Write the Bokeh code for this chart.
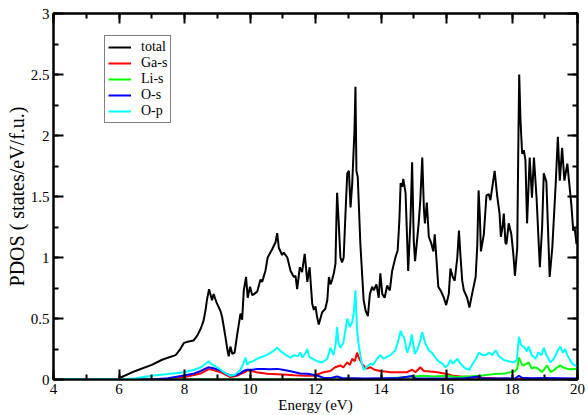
from bokeh.plotting import figure
from bokeh.models import (LinearAxis, Legend, LegendItem, Range1d,
                          SingleIntervalTicker, CustomJSTickFormatter)
from bokeh.embed import file_html
from bokeh.resources import INLINE

FONT = "'Liberation Serif', 'Times New Roman', Times, 'DejaVu Serif', serif"

# Total density of states (states/eV/f.u.)
total_e = [4.0, 5.95, 6.0, 6.5, 7.0, 7.3, 7.4, 7.73, 7.85, 7.98, 8.1, 8.28, 8.39, 8.5, 8.58,
           8.64, 8.69, 8.75, 8.8, 8.84, 8.89, 8.94, 8.98, 9.1, 9.15, 9.2, 9.25, 9.3, 9.35,
           9.4, 9.46, 9.53, 9.61, 9.71, 9.76, 9.81, 9.88, 9.93, 10.0, 10.07, 10.12, 10.22,
           10.32, 10.37, 10.47, 10.54, 10.68, 10.78, 10.83, 10.88, 10.98, 11.03, 11.14,
           11.24, 11.34, 11.39, 11.44, 11.52, 11.59, 11.67, 11.75, 11.82, 11.9, 11.95, 12.0,
           12.05, 12.1, 12.2, 12.3, 12.36, 12.41, 12.46, 12.51, 12.56, 12.61, 12.64, 12.66,
           12.71, 12.76, 12.81, 12.86, 12.92, 12.97, 13.02, 13.07, 13.12, 13.15, 13.19,
           13.22, 13.25, 13.29, 13.37, 13.47, 13.53, 13.6, 13.66, 13.73, 13.78, 13.86,
           13.93, 13.98, 14.04, 14.11, 14.19, 14.27, 14.34, 14.44, 14.51, 14.56, 14.6,
           14.65, 14.68, 14.75, 14.83, 14.9, 14.95, 15.0, 15.04, 15.15, 15.2, 15.26, 15.31,
           15.34, 15.4, 15.46, 15.53, 15.6, 15.64, 15.69, 15.75, 15.82, 15.92, 15.99,
           16.07, 16.12, 16.19, 16.25, 16.33, 16.38, 16.43, 16.48, 16.53, 16.63, 16.7,
           16.78, 16.89, 16.94, 16.98, 17.02, 17.05, 17.14, 17.22, 17.29, 17.34, 17.39,
           17.47, 17.55, 17.62, 17.66, 17.71, 17.75, 17.8, 17.83, 17.9, 17.98, 18.04,
           18.09, 18.16, 18.19, 18.22, 18.26, 18.31, 18.36, 18.41, 18.46, 18.54, 18.61,
           18.67, 18.75, 18.85, 18.92, 18.97, 19.05, 19.15, 19.23, 19.33, 19.4, 19.46,
           19.53, 19.6, 19.69, 19.74, 19.81, 19.87, 19.91, 19.97, 20.0]
total_v = [0.0, 0.0, 0.01, 0.07, 0.12, 0.16, 0.17, 0.2, 0.24, 0.3, 0.31, 0.32, 0.36, 0.42, 0.48,
           0.565, 0.66, 0.74, 0.69, 0.65, 0.7, 0.66, 0.63, 0.56, 0.51, 0.43, 0.35, 0.26, 0.19,
           0.27, 0.21, 0.22, 0.37, 0.54, 0.49, 0.73, 0.84, 0.67, 0.76, 0.69, 0.7, 0.72,
           0.82, 0.8, 0.89, 1.0, 1.07, 1.125, 1.2, 1.08, 1.02, 1.04, 1.0,
           0.89, 0.84, 0.85, 0.74, 0.92, 0.88, 1.03, 0.8, 0.92, 0.62, 0.57, 0.6,
           0.51, 0.45, 0.55, 0.58, 0.65, 0.84, 0.78, 0.82, 0.87, 0.95, 1.33, 1.53,
           1.28, 1.0, 0.96, 1.0, 1.39, 1.69, 1.71, 1.41, 1.6, 1.79, 2.04,
           2.4, 1.71, 1.66, 1.11, 0.65, 0.565, 0.52, 0.7, 0.76, 0.73, 0.78,
           0.67, 0.87, 0.7, 0.67, 0.77, 0.73, 0.89, 1.0, 1.06, 1.3, 1.61,
           1.58, 1.645, 1.53, 0.89, 1.3, 1.78, 1.14, 0.97, 1.28, 1.47, 1.82, 1.4,
           1.28, 1.45, 1.17, 1.12, 1.05, 1.19, 1.0, 0.76, 0.73, 0.67, 0.61,
           0.7, 0.91, 0.84, 0.81, 1.0, 1.22, 1.0, 0.81, 0.73, 0.67, 0.59,
           0.7, 0.84, 1.1, 1.55, 1.33, 1.05, 1.19, 1.51, 1.52, 1.47, 1.56,
           1.71, 1.5, 1.36, 1.17, 1.25, 1.36, 1.12, 1.11, 1.28, 1.19, 1.03,
           0.85, 1.08, 1.85, 2.5, 2.12, 1.85, 1.88, 1.8, 1.28, 1.82, 1.49,
           1.82, 1.49, 0.92, 1.25, 1.69, 1.62, 0.84, 1.08, 1.58, 1.99, 1.63,
           1.9, 1.63, 1.77, 1.63, 1.44, 1.22, 1.25, 1.11, 1.14]

# Ga-s projection
gas_e = [4.0, 7.0, 7.5, 8.0, 8.5, 8.74, 8.85, 9.1, 9.4, 9.6, 9.71, 9.85, 9.91, 10.2, 10.52,
         11.0, 11.34, 11.7, 11.95, 12.1, 12.25, 12.45, 12.6, 12.76, 12.85, 12.97, 13.05,
         13.12, 13.2, 13.27, 13.32, 13.42, 13.55, 13.68, 13.8, 13.98, 14.3, 14.6, 14.8,
         14.95, 15.05, 15.2, 15.31, 15.5, 15.72, 16.02, 16.2, 16.43, 16.7, 17.04, 17.5,
         18.06, 18.5, 20.0]
gas_v = [0.0, 0.0, 0.005, 0.02, 0.05, 0.085, 0.08, 0.06, 0.02, 0.03, 0.045, 0.06, 0.075, 0.06,
         0.047, 0.04, 0.035, 0.03, 0.03, 0.045, 0.06, 0.07, 0.1, 0.115, 0.1, 0.14, 0.12,
         0.17, 0.15, 0.22, 0.18, 0.13, 0.09, 0.1, 0.08, 0.07, 0.06, 0.06, 0.06,
         0.08, 0.06, 0.1, 0.07, 0.065, 0.06, 0.045, 0.03, 0.025, 0.02, 0.015, 0.01,
         0.005, 0.005, 0.0]

# Li-s projection
lis_e = [4.0, 14.0, 14.3, 14.8, 15.31, 15.6, 16.02, 16.3, 16.63, 17.04, 17.3, 17.55, 17.8,
         17.95, 18.1, 18.16, 18.21, 18.26, 18.31, 18.36, 18.45, 18.51, 18.6, 18.67, 18.8,
         18.92, 19.0, 19.07, 19.18, 19.3, 19.38, 19.48, 19.55, 19.69, 19.8, 19.94, 20.0]
lis_v = [0.0, 0.0, 0.01, 0.02, 0.03, 0.025, 0.03, 0.02, 0.025, 0.03, 0.04, 0.047, 0.05,
         0.06, 0.07, 0.09, 0.18, 0.15, 0.12, 0.115, 0.13, 0.14, 0.09, 0.1, 0.09,
         0.06, 0.09, 0.115, 0.06, 0.08, 0.1, 0.115, 0.1, 0.087, 0.085, 0.087, 0.087]

# O-s projection
os_e = [4.0, 7.0, 7.5, 7.98, 8.3, 8.5, 8.72, 8.85, 9.1, 9.25, 9.4, 9.55, 9.71, 9.8, 9.91,
        10.1, 10.22, 10.42, 10.6, 10.83, 11.0, 11.24, 11.54, 11.75, 12.05, 12.25, 12.5,
        12.66, 12.8, 13.2, 13.5, 14.0, 14.5, 14.95, 15.05, 15.5, 16.0, 16.5, 16.99, 17.1,
        17.6, 18.1, 18.21, 18.3, 18.6, 19.0, 19.5, 20.0]
os_v = [0.0, 0.0, 0.01, 0.033, 0.05, 0.07, 0.1, 0.095, 0.074, 0.05, 0.033, 0.035, 0.052, 0.07,
        0.08, 0.08, 0.087, 0.087, 0.085, 0.087, 0.08, 0.068, 0.05, 0.047, 0.033, 0.013,
        0.015, 0.025, 0.012, 0.01, 0.008, 0.01, 0.01, 0.028, 0.01, 0.008, 0.008, 0.008,
        0.025, 0.008, 0.008, 0.01, 0.03, 0.015, 0.01, 0.012, 0.01, 0.008]

# O-p projection
op_e = [4.0, 6.0, 6.5, 7.0, 7.5, 8.0, 8.3, 8.5, 8.74, 8.8, 9.0, 9.2, 9.4, 9.55, 9.71, 9.78,
        9.86, 9.91, 9.96, 10.1, 10.22, 10.32, 10.5, 10.7, 10.83, 10.95, 11.1, 11.24, 11.35,
        11.45, 11.54, 11.6, 11.7, 11.75, 11.8, 11.85, 12.05, 12.2, 12.36, 12.46, 12.55,
        12.62, 12.66, 12.7, 12.76, 12.85, 12.97, 13.05, 13.12, 13.17, 13.22, 13.27, 13.32,
        13.4, 13.47, 13.55, 13.68, 13.75, 13.88, 13.98, 14.08, 14.2, 14.29, 14.44, 14.54,
        14.6, 14.65, 14.7, 14.8, 14.88, 14.94, 15.03, 15.1, 15.18, 15.26, 15.35, 15.46,
        15.55, 15.66, 15.75, 15.87, 15.97, 16.05, 16.12, 16.2, 16.33, 16.4, 16.5, 16.58,
        16.7, 16.78, 16.9, 16.99, 17.1, 17.19, 17.3, 17.4, 17.5, 17.6, 17.75, 17.9, 18.05,
        18.15, 18.21, 18.28, 18.36, 18.45, 18.51, 18.6, 18.72, 18.8, 18.9, 18.97, 19.05,
        19.18, 19.3, 19.4, 19.48, 19.55, 19.62, 19.69, 19.75, 19.84, 19.97, 20.0]
op_v = [0.0, 0.0, 0.01, 0.03, 0.045, 0.06, 0.08, 0.1, 0.15, 0.13, 0.1, 0.06, 0.03, 0.04, 0.08,
        0.12, 0.18, 0.12, 0.14, 0.15, 0.17, 0.18, 0.2, 0.23, 0.26, 0.23, 0.2, 0.18, 0.2,
        0.19, 0.22, 0.18, 0.22, 0.25, 0.19, 0.18, 0.15, 0.14, 0.17, 0.26, 0.2,
        0.3, 0.43, 0.3, 0.26, 0.3, 0.5, 0.43, 0.47, 0.55, 0.73, 0.4, 0.28,
        0.15, 0.08, 0.1, 0.13, 0.12, 0.17, 0.2, 0.17, 0.19, 0.2, 0.24, 0.33,
        0.4, 0.36, 0.35, 0.22, 0.28, 0.37, 0.21, 0.24, 0.3, 0.39, 0.3, 0.24,
        0.22, 0.18, 0.15, 0.13, 0.1, 0.12, 0.16, 0.13, 0.17, 0.14, 0.11, 0.09,
        0.08, 0.12, 0.17, 0.22, 0.2, 0.2, 0.22, 0.2, 0.24, 0.19, 0.16, 0.15, 0.14,
        0.16, 0.35, 0.28, 0.27, 0.23, 0.27, 0.2, 0.17, 0.22, 0.2, 0.26, 0.2,
        0.14, 0.18, 0.24, 0.27, 0.22, 0.25, 0.2, 0.17, 0.13, 0.11, 0.11]

x_ticks_interval = 2
y_ticks_interval = 0.5

p = figure(width=588, height=415, output_backend="svg", toolbar_location=None,
           x_range=Range1d(4, 20), y_range=Range1d(0, 3),
           x_axis_location=None, y_axis_location=None,
           min_border_left=53, min_border_right=11, min_border_top=13, min_border_bottom=36)
p.grid.visible = False
p.outline_line_color = "black"
p.outline_line_width = 2
p.background_fill_color = "white"
p.border_fill_color = "white"

fmt = CustomJSTickFormatter(code="return tick.toString();")
blank = CustomJSTickFormatter(code="return '';")


def make_axis(kind, show_labels, label=None, label_size="15px"):
    if kind == "x":
        ticker = SingleIntervalTicker(interval=x_ticks_interval, num_minor_ticks=2)
    else:
        ticker = SingleIntervalTicker(interval=y_ticks_interval, num_minor_ticks=2)
    ax = LinearAxis(ticker=ticker, formatter=fmt if show_labels else blank)
    ax.axis_line_width = 2
    ax.axis_line_color = "black"
    ax.major_tick_in = 10
    ax.major_tick_out = 0
    ax.minor_tick_in = 5
    ax.minor_tick_out = 0
    ax.major_tick_line_width = 2
    ax.minor_tick_line_width = 2
    ax.major_tick_line_color = "black"
    ax.minor_tick_line_color = "black"
    ax.major_label_text_font = FONT
    ax.major_label_text_color = "black"
    if show_labels:
        ax.major_label_text_font_size = "15px"
        ax.major_label_standoff = 4
    else:
        ax.major_label_text_font_size = "0px"
        ax.major_label_standoff = 0
    if label:
        ax.axis_label = label
        ax.axis_label_text_font = FONT
        ax.axis_label_text_font_size = label_size
        ax.axis_label_text_font_style = "normal"
        ax.axis_label_text_color = "black"
        ax.axis_label_standoff = 0
    return ax


p.add_layout(make_axis("x", True, "Energy (eV)", "15px"), "below")
p.add_layout(make_axis("y", True, "PDOS ( states/eV/f.u.)", "20px"), "left")
p.add_layout(make_axis("x", False), "above")
p.add_layout(make_axis("y", False), "right")

r_total = p.line(total_e, total_v, line_color="black", line_width=2)
r_gas = p.line(gas_e, gas_v, line_color="#ff0000", line_width=2)
r_lis = p.line(lis_e, lis_v, line_color="#00ff00", line_width=2)
r_os = p.line(os_e, os_v, line_color="#0000ff", line_width=2)
r_op = p.line(op_e, op_v, line_color="#00ffff", line_width=2)

legend = Legend(items=[
    LegendItem(label="total", renderers=[r_total]),
    LegendItem(label="Ga-s", renderers=[r_gas]),
    LegendItem(label="Li-s", renderers=[r_lis]),
    LegendItem(label="O-s", renderers=[r_os]),
    LegendItem(label="O-p", renderers=[r_op]),
], location=(51, 256))
legend.border_line_color = "black"
legend.border_line_width = 1
legend.background_fill_color = "white"
legend.background_fill_alpha = 1
legend.padding = 3
legend.spacing = 0
legend.margin = 0
legend.label_height = 14
legend.glyph_height = 14
legend.glyph_width = 23
legend.label_standoff = 10
legend.label_text_font = FONT
legend.label_text_font_size = "14px"
legend.label_text_line_height = 1.0
legend.label_text_color = "black"
p.add_layout(legend)

open("out.html", "w").write(file_html(p, INLINE))
